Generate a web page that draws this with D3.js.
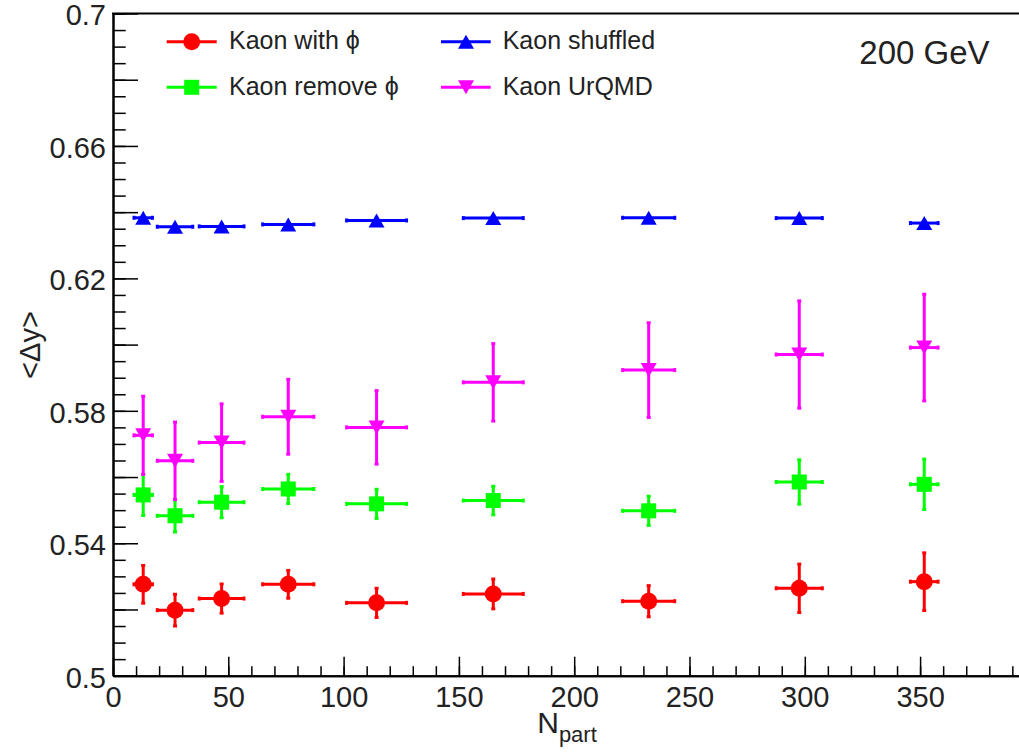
<!DOCTYPE html>
<html>
<head>
<meta charset="utf-8">
<script src="https://cdn.jsdelivr.net/npm/d3@7"></script>
<style>
  html, body { margin: 0; padding: 0; background: #fff; }
  svg { display: block; }
  text { font-family: "Liberation Sans", Arial, Helvetica, sans-serif; fill: #222; }
</style>
</head>
<body>
<svg id="chart" width="1019" height="753"></svg>
<script>
// ---- data ----
const npart      = [13.1, 26.9, 47.1, 76.0, 114.3, 164.9, 232.3, 297.6, 351.8];
const npartErr   = [4.0, 7.7, 9.7, 11.1, 13.0, 13.0, 11.3, 10.0, 6.0];
const withPhi    = [0.5276, 0.5198, 0.5233, 0.5276, 0.5220, 0.5247, 0.5225, 0.5264, 0.5284];
const withPhiErr = [0.0057, 0.0048, 0.0044, 0.0042, 0.0044, 0.0045, 0.0047, 0.0073, 0.0087];
const removePhi    = [0.5546, 0.5483, 0.5524, 0.5564, 0.5519, 0.5529, 0.5498, 0.5585, 0.5578];
const removePhiErr = [0.0062, 0.0049, 0.0047, 0.0044, 0.0044, 0.0043, 0.0044, 0.0067, 0.0076];
const shuffled    = [0.6383, 0.6356, 0.6357, 0.6363, 0.6375, 0.6382, 0.6383, 0.6382, 0.6367];
const shuffledErr = [0.0005, 0.0005, 0.0005, 0.0005, 0.0005, 0.0005, 0.0005, 0.0005, 0.0005];
const urqmd    = [0.5726, 0.5649, 0.5704, 0.5782, 0.5750, 0.5886, 0.5923, 0.5970, 0.5991];
const urqmdErr = [0.0118, 0.0117, 0.0117, 0.0113, 0.0111, 0.0117, 0.0143, 0.0162, 0.0161];

const seriesNames = ["Kaon with \u03D5", "Kaon remove \u03D5", "Kaon shuffled", "Kaon UrQMD"];
const xMajorTicks = [0, 50, 100, 150, 200, 250, 300, 350];
const yLabelTicks = [0.5, 0.54, 0.58, 0.62, 0.66, 0.7];
const energyLabel = "200 GeV";

// ---- layout ----
const svg = d3.select("#chart");
const L = 113, B = 675.7, T = 13.5;
const pxPerUnit = 2.306;
const xMax = 396;
const x = d3.scaleLinear().domain([0, xMax]).range([L, L + xMax * pxPerUnit]);
const y = d3.scaleLinear().domain([0.5, 0.7]).range([B, T]);

const series = [
  { name: seriesNames[0], vals: withPhi,   errs: withPhiErr,   color: "#ff0000", shape: "circle" },
  { name: seriesNames[1], vals: removePhi, errs: removePhiErr, color: "#00ff00", shape: "square" },
  { name: seriesNames[2], vals: shuffled,  errs: shuffledErr,  color: "#0000ff", shape: "up" },
  { name: seriesNames[3], vals: urqmd,     errs: urqmdErr,     color: "#ff00ff", shape: "down" }
];

function drawMarker(g, shape, cx, cy, color) {
  if (shape === "circle") {
    g.append("circle").attr("cx", cx).attr("cy", cy).attr("r", 8.5).attr("fill", color);
  } else if (shape === "square") {
    g.append("rect").attr("x", cx - 7.5).attr("y", cy - 7.5).attr("width", 15).attr("height", 15).attr("fill", color);
  } else if (shape === "up") {
    g.append("path").attr("d", `M${cx - 8},${cy + 7}L${cx + 8},${cy + 7}L${cx},${cy - 7}Z`).attr("fill", color);
  } else {
    g.append("path").attr("d", `M${cx - 8},${cy - 7}L${cx + 8},${cy - 7}L${cx},${cy + 7}Z`).attr("fill", color);
  }
}

// ---- axes ----
const xMinorAxis = d3.axisBottom(x).tickValues(d3.range(0, xMax, 10)).tickSize(-9.5).tickSizeOuter(0).tickFormat("");
const xMajorAxis = d3.axisBottom(x).tickValues(xMajorTicks).tickSize(-19).tickSizeOuter(0).tickPadding(10.7)
  .tickFormat(d => String(d));
const gxMinor = svg.append("g").attr("transform", `translate(0,${B})`).call(xMinorAxis);
const gx = svg.append("g").attr("transform", `translate(0,${B})`).call(xMajorAxis);

const yMinorVals = d3.range(0, 41).map(i => 0.5 + i * 0.005);
const yMajorVals = d3.range(0, 11).map(i => 0.5 + i * 0.02);
const yMinorAxis = d3.axisLeft(y).tickValues(yMinorVals).tickSize(-12.7).tickSizeOuter(0).tickFormat("");
const yMajorAxis = d3.axisLeft(y).tickValues(yMajorVals).tickSize(-25).tickSizeOuter(0).tickPadding(7)
  .tickFormat(d => yLabelTicks.some(v => Math.abs(v - d) < 1e-6) ? String(+d.toFixed(2)) : "");
const gyMinor = svg.append("g").attr("transform", `translate(${L},0)`).call(yMinorAxis);
const gy = svg.append("g").attr("transform", `translate(${L},0)`).call(yMajorAxis);

[gxMinor, gx, gyMinor, gy].forEach(g => {
  g.selectAll(".tick line").attr("stroke", "#000").attr("stroke-width", 1.5);
  g.select(".domain").attr("stroke", "#000").attr("stroke-width", 2);
  g.selectAll("text").attr("font-size", 29).attr("fill", "#222")
    .style("font-family", '"Liberation Sans", Arial, Helvetica, sans-serif');
});
gy.selectAll("text").attr("dy", "0.39em");

// top frame
svg.append("line").attr("x1", L - 1).attr("x2", 1019).attr("y1", T).attr("y2", T)
  .attr("stroke", "#000").attr("stroke-width", 2);

// ---- data ----
const plot = svg.append("g");
series.forEach(s => {
  const g = plot.append("g");
  const cap = 2;
  s.vals.forEach((v, i) => {
    const cx = x(npart[i]), cy = y(v);
    const x0 = x(npart[i] - npartErr[i]), x1 = x(npart[i] + npartErr[i]);
    const y0 = y(v - s.errs[i]), y1 = y(v + s.errs[i]);
    g.append("line").attr("x1", x0).attr("x2", x1).attr("y1", cy).attr("y2", cy)
      .attr("stroke", s.color).attr("stroke-width", 3);
    g.append("line").attr("x1", cx).attr("x2", cx).attr("y1", y0).attr("y2", y1)
      .attr("stroke", s.color).attr("stroke-width", 3);
    // end caps
    g.append("line").attr("x1", x0).attr("x2", x0).attr("y1", cy - cap).attr("y2", cy + cap).attr("stroke", s.color).attr("stroke-width", 3);
    g.append("line").attr("x1", x1).attr("x2", x1).attr("y1", cy - cap).attr("y2", cy + cap).attr("stroke", s.color).attr("stroke-width", 3);
    if (Math.abs(y1 - y0) > 6) {
      g.append("line").attr("x1", cx - cap).attr("x2", cx + cap).attr("y1", y0).attr("y2", y0).attr("stroke", s.color).attr("stroke-width", 3);
      g.append("line").attr("x1", cx - cap).attr("x2", cx + cap).attr("y1", y1).attr("y2", y1).attr("stroke", s.color).attr("stroke-width", 3);
    }
    drawMarker(g, s.shape, cx, cy, s.color);
  });
});

// ---- legend ----
const legendPos = [
  { lx0: 166.7, lx1: 216.7, mx: 191.7, my: 41.7, tx: 229, ty: 49.3 },
  { lx0: 166.7, lx1: 216.7, mx: 191.7, my: 87.3, tx: 229, ty: 95 },
  { lx0: 441, lx1: 490.7, mx: 466, my: 41.7, tx: 502.7, ty: 49.3 },
  { lx0: 441, lx1: 490.7, mx: 466, my: 87.3, tx: 502.7, ty: 95 }
];
const lg = svg.append("g");
series.forEach((s, i) => {
  const p = legendPos[i];
  lg.append("line").attr("x1", p.lx0).attr("x2", p.lx1).attr("y1", p.my).attr("y2", p.my)
    .attr("stroke", s.color).attr("stroke-width", 3);
  drawMarker(lg, s.shape, p.mx, p.my, s.color);
  lg.append("text").attr("x", p.tx).attr("y", p.ty).attr("font-size", 25).text(s.name);
});

svg.append("text").attr("x", 859.3).attr("y", 64.3).attr("font-size", 33).text(energyLabel);

// ---- axis titles ----
const xt = svg.append("text").attr("x", 567).attr("y", 733).attr("text-anchor", "middle").attr("font-size", 30);
xt.append("tspan").text("N");
xt.append("tspan").attr("font-size", 22).attr("dy", 9).text("part");

svg.append("text").attr("transform", `translate(40,345) rotate(-90)`).attr("text-anchor", "middle")
  .attr("font-size", 29).text("<\u0394y>");
</script>
</body>
</html>
